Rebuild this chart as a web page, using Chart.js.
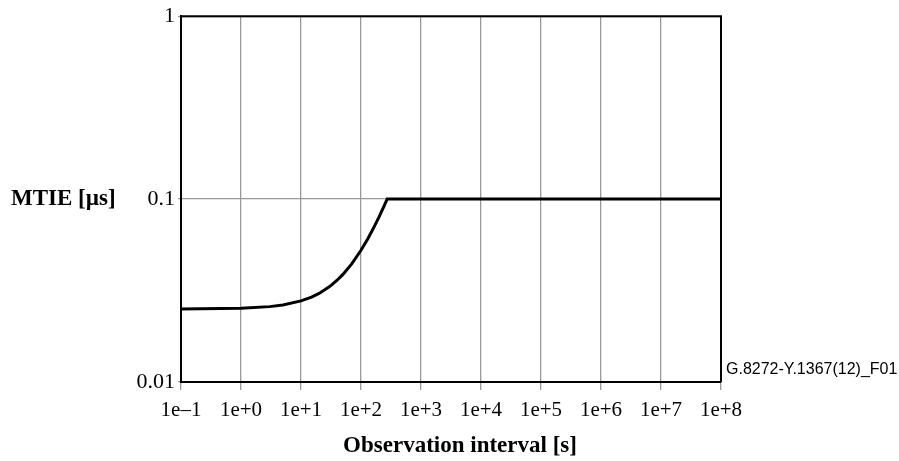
<!DOCTYPE html>
<html>
<head>
<meta charset="utf-8">
<script src="https://cdn.jsdelivr.net/npm/chart.js@4"></script>
<style>
html,body{margin:0;padding:0;background:#fff;}
#wrap{width:899px;height:461px;position:relative;}
</style>
</head>
<body>
<div id="wrap"><canvas id="c" width="899" height="461"></canvas></div>
<script>
// Observation interval tau [s]
const tau  = [0.1, 1, 3, 5, 10, 15, 20, 30, 40, 50, 70, 100, 130, 160, 200, 240, 273, 1e8];
// MTIE [µs]
const mtie = [0.02503, 0.02528, 0.02583, 0.02638, 0.02775, 0.02913, 0.0305, 0.03325, 0.036, 0.03875, 0.04425, 0.0525, 0.06075, 0.069, 0.08, 0.091, 0.1, 0.1];

const xTickValues = [0.1, 1, 10, 100, 1e3, 1e4, 1e5, 1e6, 1e7, 1e8];
const xTickLabels = ['1e\u20131', '1e+0', '1e+1', '1e+2', '1e+3', '1e+4', '1e+5', '1e+6', '1e+7', '1e+8'];
const yTickValues = [0.01, 0.1, 1];
const yTickLabels = ['0.01', '0.1', '1'];

const yTitle = 'MTIE [\u00b5s]';
const xTitle = 'Observation interval [s]';
const figId = 'G.8272-Y.1367(12)_F01';

const points = tau.map((t, i) => ({x: t, y: mtie[i]}));

const extras = {
  id: 'extras',
  afterDraw(chart) {
    const ctx = chart.ctx, a = chart.chartArea;
    ctx.save();
    ctx.strokeStyle = '#000';
    ctx.lineWidth = 2;
    ctx.beginPath();
    ctx.moveTo(a.left, a.top);
    ctx.lineTo(a.right, a.top);
    ctx.lineTo(a.right, a.bottom);
    ctx.stroke();
    ctx.fillStyle = '#000';
    ctx.font = 'bold 23px "Liberation Serif", "Times New Roman", serif';
    ctx.textBaseline = 'middle';
    ctx.textAlign = 'left';
    ctx.fillText(yTitle, 11, chart.scales.y.getPixelForValue(0.1));
    ctx.textAlign = 'center';
    ctx.fillText(xTitle, 460, 446);
    ctx.font = '16px "Liberation Sans", Arial, sans-serif';
    ctx.textAlign = 'left';
    ctx.fillText(figId, 726, 370);
    ctx.restore();
  }
};

new Chart(document.getElementById('c'), {
  type: 'scatter',
  data: {
    datasets: [{
      data: points,
      showLine: true,
      borderColor: '#000',
      borderWidth: 3,
      pointRadius: 0,
      tension: 0,
      fill: false
    }]
  },
  options: {
    responsive: false,
    animation: false,
    events: [],
    layout: {padding: {top: 16, right: 178, left: 0, bottom: 0}},
    plugins: {legend: {display: false}, tooltip: {enabled: false}},
    scales: {
      x: {
        type: 'logarithmic',
        min: 0.1,
        max: 1e8,
        afterBuildTicks(scale) { scale.ticks = xTickValues.map(v => ({value: v})); },
        afterFit(scale) { scale.height = 79; },
        ticks: {
          autoSkip: false,
          maxRotation: 0,
          padding: 8,
          color: '#000',
          font: {family: '"Liberation Serif", "Times New Roman", serif', size: 21},
          callback: (v, i) => xTickLabels[i]
        },
        grid: {color: '#999', lineWidth: 1.3, tickLength: 8, tickColor: '#999', drawOnChartArea: true},
        border: {color: '#000', width: 2}
      },
      y: {
        type: 'logarithmic',
        min: 0.01,
        max: 1,
        afterBuildTicks(scale) { scale.ticks = yTickValues.map(v => ({value: v})); },
        afterFit(scale) { scale.width = 181; },
        ticks: {
          autoSkip: false,
          padding: 3,
          color: '#000',
          font: {family: '"Liberation Serif", "Times New Roman", serif', size: 22},
          callback: (v, i) => yTickLabels[i]
        },
        grid: {color: '#999', lineWidth: 1.3, tickLength: 3, tickColor: '#999', drawOnChartArea: true},
        border: {color: '#000', width: 2}
      }
    }
  },
  plugins: [extras]
});
</script>
</body>
</html>
